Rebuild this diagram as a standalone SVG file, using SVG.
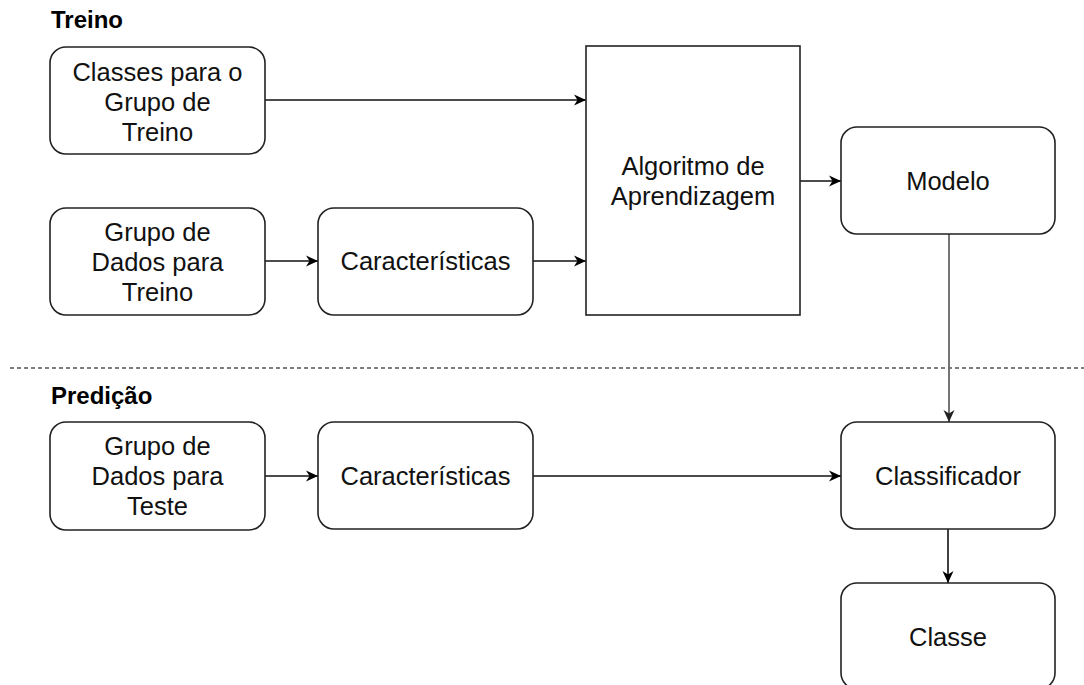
<svg xmlns="http://www.w3.org/2000/svg" width="1084" height="685" viewBox="0 0 1084 685">
<defs>
<marker id="arr" markerWidth="13" markerHeight="12" refX="12" refY="6" orient="auto" markerUnits="userSpaceOnUse">
<path d="M0,0.5 L12,6 L0,11.5 L3.5,6 Z" fill="#000"/>
</marker>
<marker id="arrg" markerWidth="13" markerHeight="12" refX="12" refY="6" orient="auto" markerUnits="userSpaceOnUse">
<path d="M0,0.5 L12,6 L0,11.5 L3.5,6 Z" fill="#222"/>
</marker>
<style>
.box{fill:#fff;stroke:#222;stroke-width:1.6}
.t{font-family:"Liberation Sans",Arial,sans-serif;font-size:25.5px;fill:#111;text-anchor:middle}
.lbl{font-family:"Liberation Sans",Arial,sans-serif;font-size:24px;font-weight:bold;fill:#000}
.c{fill:none;stroke:#111;stroke-width:1.6}
</style>
</defs>
<rect width="1084" height="685" fill="#fff"/>
<text class="lbl" x="51" y="28">Treino</text>
<text class="lbl" x="51" y="404">Predição</text>
<line x1="10" y1="368" x2="1084" y2="368" stroke="#555" stroke-width="1.5" stroke-dasharray="4 3"/>
<g id="connectors">
<line class="c" x1="265" y1="100" x2="586" y2="100" marker-end="url(#arr)"/>
<line class="c" x1="265" y1="261" x2="318" y2="261" marker-end="url(#arr)"/>
<line class="c" x1="533" y1="261" x2="586" y2="261" marker-end="url(#arr)"/>
<line class="c" x1="800" y1="181" x2="841" y2="181" marker-end="url(#arr)"/>
<line x1="949" y1="234" x2="949" y2="422" stroke="#666" stroke-width="1.8" marker-end="url(#arrg)"/>
<line class="c" x1="265" y1="476" x2="318" y2="476" marker-end="url(#arr)"/>
<line class="c" x1="533" y1="476" x2="841" y2="476" marker-end="url(#arr)"/>
<line class="c" x1="948" y1="529" x2="948" y2="583" marker-end="url(#arr)"/>
</g>
<g id="classes-treino">
<rect class="box" x="50" y="47" width="215" height="107" rx="16"/>
<text class="t" x="157.5" y="81">Classes para o</text>
<text class="t" x="157.5" y="111">Grupo de</text>
<text class="t" x="157.5" y="141">Treino</text>
</g>
<g id="dados-treino">
<rect class="box" x="50" y="208" width="215" height="107" rx="16"/>
<text class="t" x="157.5" y="241">Grupo de</text>
<text class="t" x="157.5" y="271">Dados para</text>
<text class="t" x="157.5" y="301">Treino</text>
</g>
<g id="caract-treino">
<rect class="box" x="318" y="208" width="215" height="107" rx="16"/>
<text class="t" x="425.5" y="270">Características</text>
</g>
<g id="algoritmo">
<rect class="box" x="586" y="46" width="214" height="269"/>
<text class="t" x="693" y="175">Algoritmo de</text>
<text class="t" x="693" y="205">Aprendizagem</text>
</g>
<g id="modelo">
<rect class="box" x="841" y="127" width="214" height="107" rx="16"/>
<text class="t" x="948" y="190">Modelo</text>
</g>
<g id="dados-teste">
<rect class="box" x="50" y="422" width="215" height="108" rx="16"/>
<text class="t" x="157.5" y="455">Grupo de</text>
<text class="t" x="157.5" y="485">Dados para</text>
<text class="t" x="157.5" y="515">Teste</text>
</g>
<g id="caract-teste">
<rect class="box" x="318" y="422" width="215" height="107" rx="16"/>
<text class="t" x="425.5" y="485">Características</text>
</g>
<g id="classificador">
<rect class="box" x="841" y="422" width="214" height="107" rx="16"/>
<text class="t" x="948" y="485">Classificador</text>
</g>
<g id="classe">
<rect class="box" x="841" y="583" width="214" height="106" rx="16"/>
<text class="t" x="948" y="646">Classe</text>
</g>
</svg>
